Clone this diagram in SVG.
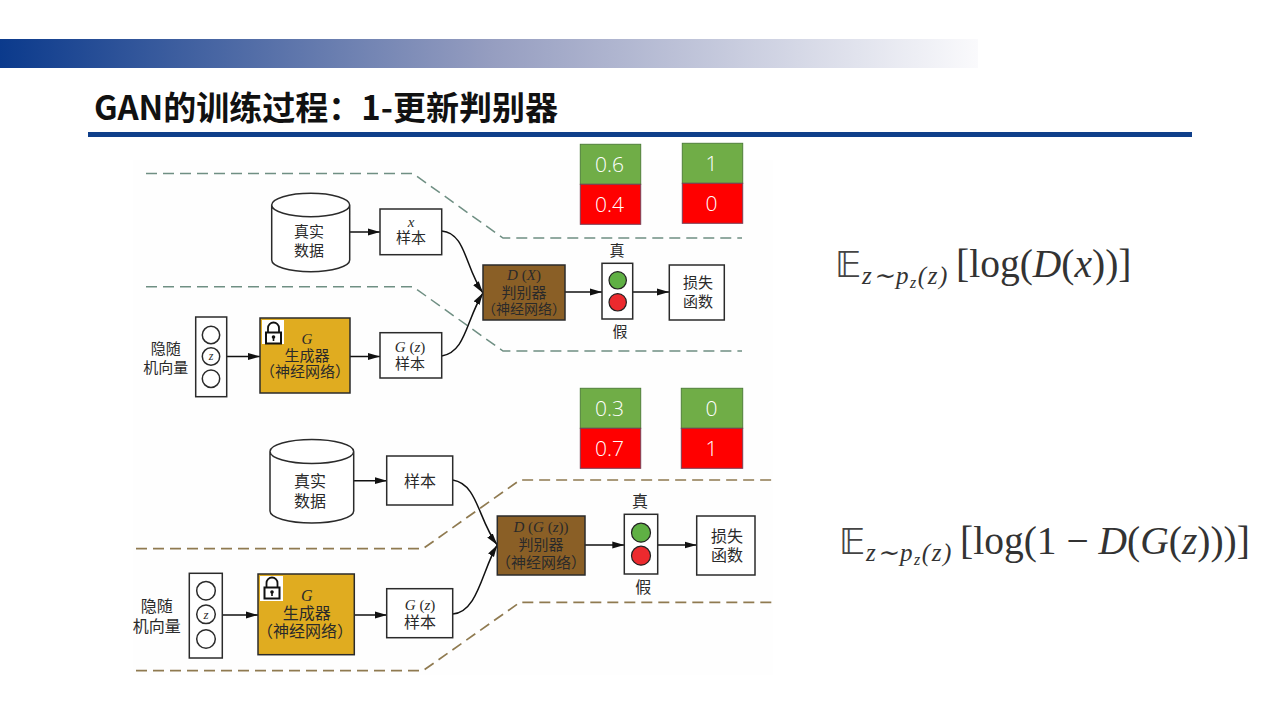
<svg xmlns="http://www.w3.org/2000/svg" width="1280" height="720" viewBox="0 0 1280 720">
<style>
.b{stroke:#2b2b2b;stroke-width:1.5;fill:#fff}
.t{font-family:"Liberation Serif","Noto Sans CJK SC",serif;fill:#2a2a2a;text-anchor:middle;dominant-baseline:central;font-size:15px}
.i{font-style:italic}
.k{font-family:"Open Sans","Noto Sans",sans-serif;font-weight:300;font-size:21px;fill:#fff;text-anchor:middle;dominant-baseline:central}
.g{fill:#70ad47;stroke:#4f7f3a;stroke-width:1}
.r{fill:#f00;stroke:#7a3f55;stroke-width:1}
.dg{fill:none;stroke:#6f8f83;stroke-width:1.5;stroke-dasharray:11 6}
.db{fill:none;stroke:#8f7a50;stroke-width:1.7;stroke-dasharray:11 6}
.c{fill:none;stroke:#111;stroke-width:1.5}
.a{marker-end:url(#ah)}
.f{font-family:"Liberation Serif",serif;fill:#333;font-size:39.500px}
.s{font-family:"Liberation Serif",serif;fill:#333;font-size:25px;font-style:italic;letter-spacing:1.600px}
.u{font-size:16px}
.e{font-family:"DejaVu Sans",serif;fill:#444;font-size:36px}
</style>
<defs>
<marker id="ah" markerUnits="userSpaceOnUse" markerWidth="13" markerHeight="9" refX="12" refY="4" orient="auto"><path d="M0 .6L12 4L0 7.4z" fill="#111"/></marker>
<linearGradient id="hb" x1="0" x2="1" y1="0" y2="0"><stop offset="0" stop-color="#0b3a8c"/><stop offset=".5" stop-color="#959dc0"/><stop offset="1" stop-color="#fafafc"/></linearGradient>
<g id="lock"><path d="M3 10V5.500a5.500 5.500 0 0 1 11 0V10" fill="none" stroke="#111" stroke-width="1.800"/><rect x="1" y="10" width="15" height="11" fill="#fff" stroke="#111" stroke-width="2"/><circle cx="8.500" cy="14.500" r="1.800" fill="#111"/><rect x="7.700" y="15" width="1.600" height="3.500" fill="#111"/></g>
</defs>
<rect width="1280" height="720" fill="#fff"/>
<rect x="133" y="160" width="640" height="515" fill="#fefefe"/>
<g id="header">
<rect x="0" y="39" width="978" height="29" fill="url(#hb)"/>
<text x="94" y="119.500" font-family="'Noto Sans CJK SC',sans-serif" font-weight="700" font-size="33px" fill="#111">GAN的训练过程：1-更新判别器</text>
<rect x="88" y="132" width="1104" height="5" fill="#0f3f8a"/>
</g>
<g id="connectors">
<path class="dg" d="M146 173.500H413L503 238H742"/>
<path class="dg" d="M146 286.700H413L503 351H742"/>
<path class="db" d="M136 548.700H423L520 480H775"/>
<path class="db" d="M136 670.700H423L520 602.300H775"/>
<path class="c a" d="M349.700 232H380"/>
<path class="c a" d="M226.700 356.500H260"/>
<path class="c a" d="M350 356.500H380"/>
<path class="c a" d="M441.700 231C466 233 465 268 483 293"/>
<path class="c a" d="M441.700 356C466 352 466 320 483 293"/>
<path class="c a" d="M565 292H602"/>
<path class="c a" d="M632.700 292H669"/>
<path class="c a" d="M353.700 480.700H387"/>
<path class="c a" d="M222.300 615H258"/>
<path class="c a" d="M354.300 615H387"/>
<path class="c a" d="M452.700 480C478 484 478 520 497.300 545"/>
<path class="c a" d="M452.700 614C478 612 482 570 497.300 545"/>
<path class="c a" d="M585 545H624.300"/>
<path class="c a" d="M657.700 545H696.700"/>
</g>
<g id="real1"><path class="b" d="M271.700 205V260A39 11.700 0 0 0 349.700 260V205A39 11.700 0 0 0 271.700 205A39 11.700 0 0 0 349.700 205"/><text class="t" x="309" y="232">真实</text><text class="t" x="309" y="251">数据</text></g>
<g id="sample1"><rect class="b" x="380" y="209" width="61.700" height="45.700"/><text class="t i" x="411" y="222">x</text><text class="t" x="411" y="238">样本</text></g>
<g id="noise1"><rect class="b" x="195.700" y="317" width="31" height="79.700"/><circle class="b" cx="211" cy="335" r="8.700"/><circle class="b" cx="211" cy="356.500" r="8.700"/><circle class="b" cx="211" cy="378.700" r="8.700"/><text class="t i" x="211" y="356" style="font-size:12px">z</text><text class="t" x="165.700" y="349">隐随</text><text class="t" x="165.700" y="367.700">机向量</text></g>
<g id="gen1"><rect class="b" x="260" y="318" width="90" height="75" style="fill:#e0ac20"/><rect x="262" y="320" width="22" height="24" fill="#fff"/><use href="#lock" transform="translate(265 322.500)"/><text class="t i" x="307" y="339">G</text><text class="t" x="307" y="356">生成器</text><text class="t" x="305" y="372">（神经网络）</text></g>
<g id="fake1"><rect class="b" x="380" y="332.700" width="61.700" height="45.300"/><text class="t" x="410" y="347"><tspan class="i">G</tspan> (<tspan class="i">z</tspan>)</text><text class="t" x="410" y="364">样本</text></g>
<g id="disc1"><rect class="b" x="483" y="265" width="82" height="55" style="fill:#8a5f26"/><text class="t" x="524" y="275"><tspan class="i">D</tspan> (<tspan class="i">X</tspan>)</text><text class="t" x="524" y="293">判别器</text><text class="t" x="524" y="309" style="font-size:14px">（神经网络）</text></g>
<g id="light1"><rect class="b" x="602" y="263.300" width="30.700" height="55.700"/><circle cx="617.700" cy="280.300" r="8.700" fill="#5fb044" stroke="#222" stroke-width="1.200"/><circle cx="617.700" cy="302.300" r="8.700" fill="#ec2a2e" stroke="#222" stroke-width="1.200"/><text class="t" x="617" y="251">真</text><text class="t" x="620" y="331.700">假</text></g>
<g id="loss1"><rect class="b" x="669.300" y="265" width="55" height="55"/><text class="t" x="698" y="283">损失</text><text class="t" x="698" y="302">函数</text></g>
<g id="pred1"><rect class="g" x="580.300" y="144.300" width="60.400" height="40"/><rect class="r" x="580.300" y="184.300" width="60.400" height="40"/><text class="k" x="609.500" y="164">0.6</text><text class="k" x="609.500" y="204">0.4</text></g>
<g id="label1"><rect class="g" x="682.300" y="143.300" width="60.400" height="40"/><rect class="r" x="682.300" y="183.300" width="60.400" height="40"/><text class="k" x="711.500" y="163">1</text><text class="k" x="711.500" y="203">0</text></g>
<g id="real2"><path class="b" d="M270 451.500V511A41.850 12 0 0 0 353.700 511V451.500A41.850 12 0 0 0 270 451.500A41.850 12 0 0 0 353.700 451.500"/><text class="t" x="310" y="481.700" style="font-size:16px">真实</text><text class="t" x="310" y="501.700" style="font-size:16px">数据</text></g>
<g id="sample2"><rect class="b" x="386.700" y="456" width="66" height="49"/><text class="t" x="420" y="481" style="font-size:16px">样本</text></g>
<g id="noise2"><rect class="b" x="189.300" y="573.300" width="33" height="84.700"/><circle class="b" cx="206" cy="590.700" r="9.300"/><circle class="b" cx="206" cy="614.300" r="9.300"/><circle class="b" cx="206" cy="639" r="9.300"/><text class="t i" x="206" y="614" style="font-size:13px">z</text><text class="t" x="156.700" y="606.700" style="font-size:16px">隐随</text><text class="t" x="156.700" y="626.700" style="font-size:16px">机向量</text></g>
<g id="gen2"><rect class="b" x="258" y="574" width="96.300" height="80.700" style="fill:#e0ac20"/><rect x="260" y="576" width="23" height="25" fill="#fff"/><use href="#lock" transform="translate(263.500 577.500)"/><text class="t i" x="306.700" y="595.700" style="font-size:16px">G</text><text class="t" x="306.700" y="613" style="font-size:16px">生成器</text><text class="t" x="305" y="631.700" style="font-size:16px">（神经网络）</text></g>
<g id="fake2"><rect class="b" x="386.700" y="588.700" width="66" height="49"/><text class="t" x="420" y="604.700"><tspan class="i">G</tspan> (<tspan class="i">z</tspan>)</text><text class="t" x="420" y="622" style="font-size:16px">样本</text></g>
<g id="disc2"><rect class="b" x="497.300" y="516" width="87.700" height="59" style="fill:#8a5f26"/><text class="t" x="541" y="527.300"><tspan class="i">D</tspan> (<tspan class="i">G</tspan> (<tspan class="i">z</tspan>))</text><text class="t" x="541" y="545">判别器</text><text class="t" x="541" y="562.700">（神经网络）</text></g>
<g id="light2"><rect class="b" x="624.300" y="514.300" width="33.400" height="59.700"/><circle cx="641" cy="532.700" r="9.500" fill="#5fb044" stroke="#222" stroke-width="1.200"/><circle cx="641" cy="555.700" r="9.500" fill="#ec2a2e" stroke="#222" stroke-width="1.200"/><text class="t" x="640" y="501" style="font-size:16px">真</text><text class="t" x="643.300" y="587.300" style="font-size:16px">假</text></g>
<g id="loss2"><rect class="b" x="696.700" y="516" width="58.300" height="59"/><text class="t" x="727" y="536" style="font-size:16px">损失</text><text class="t" x="727" y="555.700" style="font-size:16px">函数</text></g>
<g id="pred2"><rect class="g" x="580.300" y="388.300" width="60.400" height="40"/><rect class="r" x="580.300" y="428.300" width="60.400" height="40"/><text class="k" x="609.500" y="408">0.3</text><text class="k" x="609.500" y="448">0.7</text></g>
<g id="label2"><rect class="g" x="681.300" y="388.300" width="61.400" height="40"/><rect class="r" x="681.300" y="428.300" width="61.400" height="40"/><text class="k" x="711.500" y="408">0</text><text class="k" x="711.500" y="448">1</text></g>
<g id="formula1">
<text class="e" x="835" y="277">𝔼</text>
<text class="s" x="862" y="284">z∼p<tspan class="u" dy="4">z</tspan><tspan dy="-4">(z)</tspan></text>
<text class="f" x="956" y="277">[log(<tspan class="i">D</tspan>(<tspan class="i">x</tspan>))]</text>
</g>
<g id="formula2">
<text class="e" x="839" y="554">𝔼</text>
<text class="s" x="866" y="561">z∼p<tspan class="u" dy="4">z</tspan><tspan dy="-4">(z)</tspan></text>
<text class="f" x="960" y="554">[log(1 − <tspan class="i">D</tspan>(<tspan class="i">G</tspan>(<tspan class="i">z</tspan>)))]</text>
</g>
</svg>
